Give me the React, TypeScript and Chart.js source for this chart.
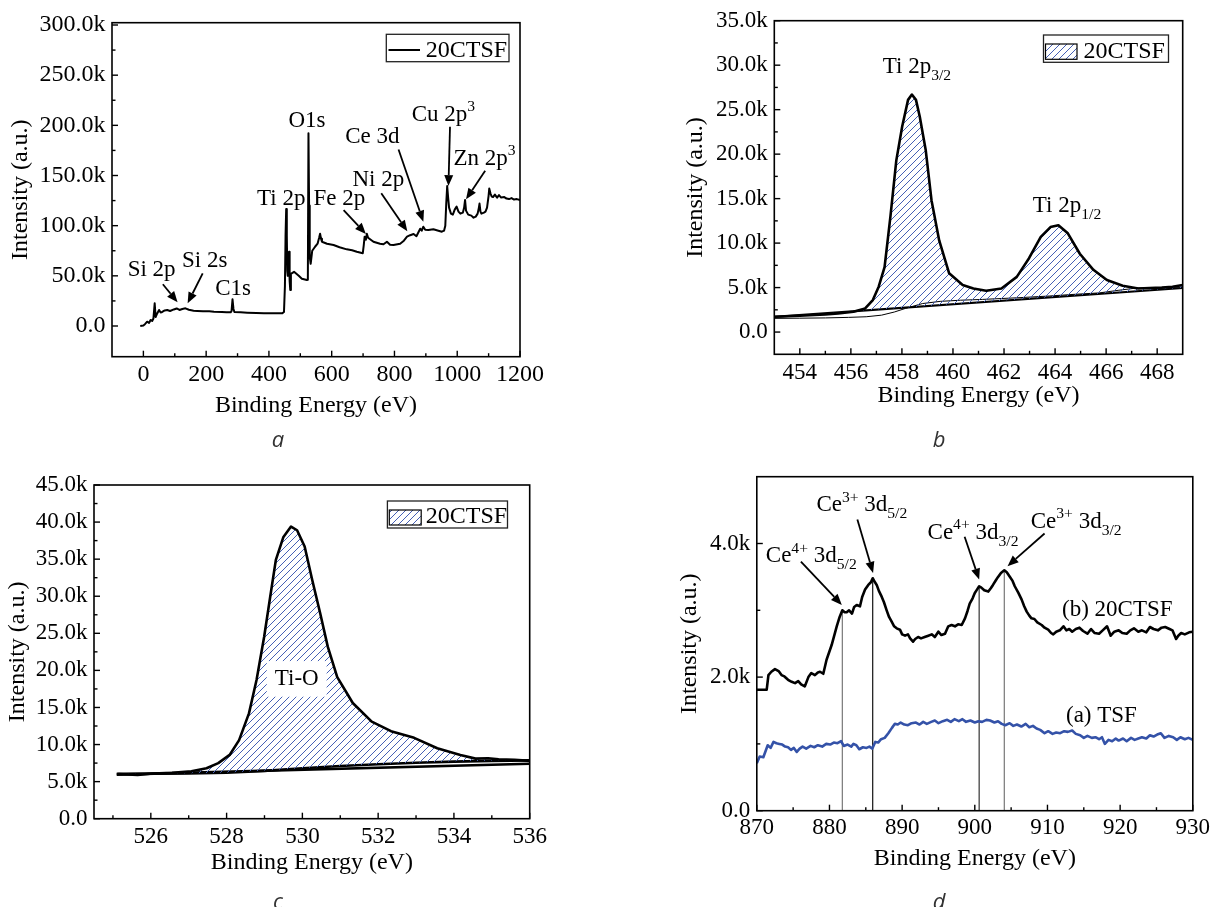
import React, { useEffect, useRef } from 'react';
import { Chart, registerables } from 'chart.js';

Chart.register(...registerables);

const SERIF = '"Liberation Serif", "Times New Roman", serif';

// ---------- Panel a : survey spectrum ----------
const surveyEnergy = [
  -10, 0, 5, 12, 18, 23, 28, 32, 36, 39, 44, 50, 55, 60, 68, 76, 85, 97, 106, 115, 124, 134, 145, 160, 172, 190,
  210, 225, 250, 265, 278, 281, 284, 287, 290, 310, 331, 360, 384, 410, 442, 448, 451, 453, 455, 457, 458.5, 460,
  462, 464, 466, 468, 470, 480, 495, 505, 521, 524, 526, 528, 530, 533, 538, 547, 555, 560, 563, 566, 569, 585,
  606, 625, 648, 665, 680, 699, 702, 705, 709, 712, 716, 733, 754, 765, 776, 786, 797, 818, 830, 840, 850, 861,
  870, 882, 887, 892, 898, 908, 924, 940, 951, 958, 962, 965, 968, 971, 974, 980, 986, 992, 998, 1004, 1010,
  1018, 1022, 1025, 1028, 1035, 1045, 1052, 1059, 1065, 1069, 1071, 1074, 1077, 1085, 1090, 1095, 1100, 1102,
  1106, 1110, 1114, 1120, 1127, 1133, 1140, 1150, 1157, 1165, 1173, 1181, 1190, 1200,
];
const surveyCounts = [
  0, 500, 1800, 4300, 3000, 6000, 5000, 7500, 22600, 9000, 12500, 16000, 13500, 14000, 15500, 16000, 15000, 16500,
  17500, 16000, 17000, 17600, 16200, 15200, 15000, 14600, 14800, 14300, 14000, 13800, 13600, 15000, 26600, 17000,
  14000, 13600, 13300, 12900, 12600, 12700, 12600, 14000, 40000, 90000, 116500, 90000, 55000, 50000, 60000, 74000,
  45000, 36000, 52000, 54000, 50000, 47000, 45800, 46000, 192000, 120000, 69000, 62000, 75000, 79000, 82000, 88000,
  92000, 87000, 84000, 82000, 80700, 78500, 76400, 75500, 74000, 72500, 80000, 89000, 86000, 92000, 88000, 84000,
  82000, 81500, 84000, 81000, 80700, 82000, 85000, 89000, 90500, 91700, 89500, 97000, 95000, 99000, 96000, 95700,
  96400, 95000, 94000, 95000, 100000, 122000, 139500, 128000, 118000, 112000, 111000, 116000, 119000, 114000,
  112000, 113000, 118000, 125600, 115000, 111000, 110000, 108000, 109000, 112000, 118000, 122000, 114000, 112000,
  113000, 114000, 118000, 130000, 137000, 132000, 129000, 128500, 131000, 128000, 130500, 128000, 128500, 127000,
  126500, 127500, 126000, 126500, 125500,
];
const surveyXTicks = [0, 200, 400, 600, 800, 1000, 1200];
const surveyXMinor = [100, 300, 500, 700, 900, 1100];
const surveyYTicks = [0, 50000, 100000, 150000, 200000, 250000, 300000];
const surveyYMinor = [25000, 75000, 125000, 175000, 225000, 275000];

// ---------- Panel b : Ti 2p ----------
const tiEnergy = [
  453.0, 453.5, 454.0, 454.57, 455.0, 455.5, 456.1, 456.56, 456.86, 457.09, 457.32, 457.55, 457.78, 458.01, 458.24,
  458.39, 458.55, 458.7, 458.93, 459.16, 459.46, 459.85, 460.38, 460.8, 461.3, 461.9, 462.5, 462.98, 463.44, 463.82,
  464.13, 464.5, 464.97, 465.5, 466.03, 466.65, 467.26, 467.7, 468.18, 468.6, 469.0,
];
const tiCounts = [
  1720, 1780, 1840, 1910, 1990, 2080, 2280, 2660, 3600, 5100, 7300, 13000, 19300, 23100, 26100, 26700, 26100, 24200,
  20500, 14800, 10300, 6600, 5300, 4900, 4640, 4900, 6200, 8300, 10700, 11800, 12000, 11100, 8800, 7000, 5850, 5200,
  4900, 4950, 5000, 5100, 5300,
];
const tiShirleyEnergy = [453.0, 454.0, 455.0, 455.9, 456.6, 457.2, 457.7, 458.14, 458.8, 459.5, 460.3, 461.15, 462.5, 463.77, 464.8, 465.73, 466.5, 467.2, 468.0, 469.0];
const tiShirleyCounts = [1540, 1560, 1590, 1650, 1720, 1900, 2250, 2660, 3200, 3450, 3580, 3670, 3850, 4050, 4250, 4400, 4700, 4950, 5000, 5050];
const tiLinearEnergy = [453.0, 469.0];
const tiLinearCounts = [1700, 4950];
const tiXTicks = [454, 456, 458, 460, 462, 464, 466, 468];
const tiXMinor = [455, 457, 459, 461, 463, 465, 467];
const tiYTicks = [0, 5000, 10000, 15000, 20000, 25000, 30000, 35000];
const tiYMinor = [2500, 7500, 12500, 17500, 22500, 27500, 32500];

// ---------- Panel c : O 1s ----------
const oEnergy = [
  525.14, 525.65, 526.05, 526.56, 527.07, 527.47, 527.78, 528.08, 528.33, 528.59, 528.79, 528.99, 529.15, 529.3,
  529.5, 529.7, 529.86, 530.06, 530.26, 530.47, 530.67, 530.92, 531.33, 531.83, 532.34, 532.95, 533.56, 534.17,
  534.57, 534.9, 535.18, 535.6, 536.0,
];
const oCounts = [
  6030, 5900, 6100, 6200, 6400, 6800, 7500, 8600, 10600, 14200, 18700, 24500, 29900, 34900, 38000, 39400, 38900,
  36700, 32200, 27700, 23200, 19100, 15600, 13100, 11800, 10900, 9500, 8600, 8100, 8150, 8000, 7950, 7800,
];
const oShirleyEnergy = [525.1, 527, 528, 529, 530, 531, 532, 533, 534, 535, 536];
const oShirleyCounts = [6050, 6100, 6200, 6450, 6800, 7100, 7350, 7550, 7700, 7800, 7870];
const oLinearEnergy = [525.1, 536.0];
const oLinearCounts = [5950, 7400];
const oXTicks = [526, 528, 530, 532, 534, 536];
const oXMinor = [525, 527, 529, 531, 533, 535];
const oYTicks = [0, 5000, 10000, 15000, 20000, 25000, 30000, 35000, 40000, 45000];
const oYMinor = [2500, 7500, 12500, 17500, 22500, 27500, 32500, 37500, 42500];

// ---------- Panel d : Ce 3d ----------
const ceEnergy = [
  870.0, 871.36, 871.6, 872.0, 872.5, 873.0, 873.4, 873.8, 874.3, 874.8, 875.26, 875.7, 876.1, 876.6, 877.1, 877.5,
  878.0, 878.4, 878.7, 879.15, 879.6, 880.3, 881.0, 881.4, 881.77, 882.1, 882.37, 882.7, 883.1, 883.4, 883.75,
  884.2, 884.5, 884.9, 885.34, 885.7, 885.95, 886.2, 886.5, 886.8, 887.2, 887.5, 887.87, 888.2, 888.56, 888.9,
  889.25, 889.7, 890.0, 890.4, 890.8, 891.1, 891.5, 891.8, 892.2, 892.6, 893.1, 893.6, 894.07, 894.5, 894.98,
  895.4, 895.9, 896.35, 896.8, 897.27, 897.7, 898.2, 898.65, 899.0, 899.3, 899.7, 900.0, 900.3, 900.6, 900.9,
  901.3, 901.86, 902.2, 902.5, 902.9, 903.2, 903.6, 904.06, 904.4, 904.84, 905.2, 905.5, 906.0, 906.45, 906.8,
  907.14, 907.5, 907.8, 908.2, 908.6, 909.2, 909.6, 910.1, 910.5, 910.8, 911.2, 911.7, 912.2, 912.6, 913.0,
  913.4, 913.9, 914.4, 914.9, 915.5, 916.0, 916.5, 917.1, 917.6, 918.2, 918.7, 919.2, 919.8, 920.3, 920.9, 921.4,
  921.9, 922.5, 923.0, 923.6, 924.1, 924.6, 925.2, 925.7, 926.2, 926.8, 927.2, 927.7, 928.0, 928.4, 928.9, 929.5,
  930.0,
];
const ceCounts = [
  1810, 1810, 2030, 2080, 2120, 2090, 2030, 2010, 1960, 1930, 1910, 1940, 1890, 1860, 2000, 2060, 2030, 2070, 2080,
  2050, 2260, 2480, 2760, 2900, 3000, 2970, 2970, 3000, 2950, 3050, 3080, 3060, 3200, 3310, 3380, 3420, 3480, 3430,
  3380, 3290, 3200, 3120, 3000, 2900, 2830, 2760, 2730, 2710, 2640, 2620, 2640, 2580, 2530, 2570, 2600, 2580, 2600,
  2620, 2640, 2600, 2680, 2630, 2650, 2760, 2780, 2760, 2790, 2780, 2880, 2990, 3100, 3180, 3260, 3310, 3360, 3340,
  3300, 3280, 3330, 3380, 3450, 3500, 3560, 3600, 3570, 3500, 3440, 3360, 3260, 3160, 3060, 2980, 2920, 2880, 2870,
  2820, 2780, 2740, 2710, 2660, 2640, 2680, 2700, 2760, 2700, 2720, 2680, 2720, 2740, 2690, 2650, 2720, 2660, 2650,
  2700, 2760, 2620, 2680, 2700, 2660, 2650, 2700, 2730, 2680, 2700, 2670, 2750, 2720, 2700, 2740, 2750, 2720, 2700,
  2570, 2620, 2660, 2640, 2670, 2680,
];
const tsfEnergy = [
  870.0, 870.4, 870.9, 871.5, 871.9, 872.3, 872.7, 873.1, 873.5, 873.9, 874.3, 874.7, 875.1, 875.5, 875.9, 876.3,
  876.8, 877.4, 877.9, 878.4, 879.0, 879.55, 880.1, 880.6, 881.1, 881.6, 881.97, 882.5, 883.0, 883.3, 883.7, 884.1,
  884.6, 885.1, 885.5, 885.9, 886.3, 886.7, 887.1, 887.6, 888.1, 888.6, 889.0, 889.4, 889.8, 890.3, 890.8, 891.3,
  891.9, 892.4, 892.9, 893.4, 894.0, 894.5, 895.0, 895.6, 896.2, 896.7, 897.2, 897.8, 898.3, 898.8, 899.4, 900.0,
  900.5, 901.0, 901.6, 902.1, 902.7, 903.2, 903.7, 904.2, 904.8, 905.3, 905.8, 906.4, 907.0, 907.5, 908.0, 908.5,
  909.0, 909.6, 910.1, 910.7, 911.2, 911.75, 912.3, 912.8, 913.4, 913.9, 914.5, 915.0, 915.5, 916.1, 916.6, 917.1,
  917.5, 917.9, 918.4, 918.9, 919.4, 919.8, 920.4, 920.9, 921.5, 922.0, 922.5, 923.0, 923.6, 924.1, 924.6, 925.1,
  925.6, 926.1, 926.7, 927.3, 927.8, 928.3, 928.9, 929.4, 930.0,
];
const tsfCounts = [
  710, 810, 800, 980, 940, 1030, 1010, 1000, 990, 960, 950, 910, 940, 880, 930, 960, 930, 970, 950, 980, 960, 1000,
  990, 1020, 1010, 1040, 970, 990, 960, 1000, 980, 920, 950, 940, 960, 930, 1030, 1020, 1070, 1090, 1160, 1240,
  1300, 1290, 1320, 1290, 1280, 1310, 1320, 1290, 1330, 1300, 1330, 1350, 1310, 1340, 1360, 1330, 1370, 1340, 1370,
  1330, 1350, 1320, 1340, 1330, 1360, 1350, 1320, 1340, 1300, 1280, 1310, 1270, 1290, 1260, 1300, 1250, 1270, 1230,
  1210, 1160, 1190, 1150, 1170, 1160, 1190, 1180, 1200, 1150, 1130, 1090, 1120, 1090, 1100, 1070, 1100, 1000, 1060,
  1040, 1080, 1050, 1080, 1040, 1090, 1060, 1080, 1100, 1080, 1130, 1110, 1140, 1160, 1090, 1120, 1100, 1060, 1100,
  1070, 1090, 1060,
];
const cePeakEnergy = [881.77, 885.95, 900.6, 904.06];
const cePeakTop = [3000, 3480, 3360, 3600];
const cePeakColors = ['#777', '#111', '#333', '#777'];
const ceXTicks = [870, 880, 890, 900, 910, 920, 930];
const ceXMinor = [875, 885, 895, 905, 915, 925];
const ceYTicks = [0, 2000, 4000];
const ceYMinor = [1000, 3000];

// ---------- annotations (data coordinates) ----------
const surveyLabels = [
  { x: -50, y: 50200, segs: [['Si 2p']] },
  { x: 123, y: 59100, segs: [['Si 2s']] },
  { x: 229, y: 30900, segs: [['C1s']] },
  { x: 362, y: 120600, segs: [['Ti 2p']] },
  { x: 462, y: 198600, segs: [['O1s']] },
  { x: 542, y: 120600, segs: [['Fe 2p']] },
  { x: 666, y: 139500, segs: [['Ni 2p']] },
  { x: 643, y: 182000, segs: [['Ce 3d']] },
  { x: 855, y: 204600, segs: [['Cu 2p'], ['3', 'sup']] },
  { x: 988, y: 160500, segs: [['Zn 2p'], ['3', 'sup']] },
];
const surveyArrows = [
  [62, 41600, 109, 23600],
  [189, 52500, 141, 22600],
  [638, 115600, 709, 91700],
  [758, 132300, 841, 94400],
  [813, 176000, 892, 104000],
  [977, 198600, 972, 139500],
  [1089, 154800, 1028, 126300],
];
const tiLabels = [
  { x: 457.25, y: 29100, segs: [['Ti 2p'], ['3/2', 'sub']] },
  { x: 463.13, y: 13500, segs: [['Ti 2p'], ['1/2', 'sub']] },
];
const oLabels = [{ x: 529.85, y: 18000, segs: [['Ti-O']], align: 'center', bg: true }];
const ceLabels = [
  { x: 871.24, y: 3720, segs: [['Ce'], ['4+', 'sup'], [' 3d'], ['5/2', 'sub']] },
  { x: 878.2, y: 4480, segs: [['Ce'], ['3+', 'sup'], [' 3d'], ['5/2', 'sub']] },
  { x: 893.5, y: 4070, segs: [['Ce'], ['4+', 'sup'], [' 3d'], ['3/2', 'sub']] },
  { x: 907.7, y: 4230, segs: [['Ce'], ['3+', 'sup'], [' 3d'], ['3/2', 'sub']] },
  { x: 912.0, y: 2920, segs: [['(b) 20CTSF']] },
  { x: 912.55, y: 1330, segs: [['(a) TSF']] },
];
const ceArrows = [
  [876.07, 3730, 881.7, 3080],
  [883.84, 4360, 886.0, 3560],
  [898.6, 4100, 900.6, 3460],
  [909.6, 4150, 904.5, 3660],
];

const pts = (xs: number[], ys: number[]) => xs.map((x, i) => ({ x, y: ys[i] }));
const kFmt = (v: number) => (v === 0 ? '0.0' : (v / 1000).toFixed(1) + 'k');
const nFmt = (v: number) => String(v);

function makeHatch(color: string, s: number) {
  const c = document.createElement('canvas');
  c.width = s;
  c.height = s;
  const g = c.getContext('2d')!;
  g.strokeStyle = color;
  g.lineWidth = 1;
  g.beginPath();
  g.moveTo(0, s);
  g.lineTo(s, 0);
  g.moveTo(-1, 1);
  g.lineTo(1, -1);
  g.moveTo(s - 1, s + 1);
  g.lineTo(s + 1, s - 1);
  g.stroke();
  return g.createPattern(c, 'repeat')!;
}

function drawRich(ctx: CanvasRenderingContext2D, x: number, y: number, segs: any[], size: number, align = 'left', bg = false) {
  const small = size * 0.68;
  const parts = segs.map(([t, m]: any) => {
    const fs = m ? small : size;
    ctx.font = `${fs}px ${SERIF}`;
    return { t, m, fs, w: ctx.measureText(t).width };
  });
  const total = parts.reduce((s: number, q: any) => s + q.w, 0);
  let cx = align === 'center' ? x - total / 2 : x;
  if (bg) {
    ctx.fillStyle = '#fff';
    ctx.fillRect(cx - 8, y - size * 1.05, total + 16, size * 1.55);
  }
  ctx.textAlign = 'left';
  ctx.textBaseline = 'alphabetic';
  ctx.fillStyle = '#000';
  for (const q of parts) {
    ctx.font = `${q.fs}px ${SERIF}`;
    const dy = q.m === 'sup' ? -size * 0.42 : q.m === 'sub' ? size * 0.3 : 0;
    ctx.fillText(q.t, cx, y + dy);
    cx += q.w;
  }
}

function drawArrow(ctx: CanvasRenderingContext2D, x1: number, y1: number, x2: number, y2: number) {
  const a = Math.atan2(y2 - y1, x2 - x1);
  const hl = 11, hw = 4.5;
  const bx = x2 - hl * Math.cos(a), by = y2 - hl * Math.sin(a);
  ctx.beginPath();
  ctx.moveTo(x1, y1);
  ctx.lineTo(bx, by);
  ctx.stroke();
  ctx.beginPath();
  ctx.moveTo(x2, y2);
  ctx.lineTo(bx + hw * Math.sin(a), by - hw * Math.cos(a));
  ctx.lineTo(bx - hw * Math.sin(a), by + hw * Math.cos(a));
  ctx.closePath();
  ctx.fill();
}

const HATCH_COLOR = '#4560b5';

const specs: any[] = [
  {
    id: 'a', left: 0, top: 0, w: 600, h: 425,
    area: { l: 112, t: 22.7, r: 520, b: 356.7 },
    xMin: -100, xMax: 1200, yMin: -30600, yMax: 302300,
    xMajor: surveyXTicks, xMinor: surveyXMinor, yMajor: surveyYTicks, yMinor: surveyYMinor,
    tickSize: 24, titleSize: 24, xLabelCenter: 374.3, yLabelGap: 6.5, yTitleX: 21, xTitleY: 405.5,
    labels: surveyLabels, arrows: surveyArrows, labelSize: 23,
    legend: { box: [386.3, 34.3, 122.7, 27.4], kind: 'line', sample: [388.5, 420], sampleY: 50, textX: 425.8, textY: 56.7 },
    datasets: () => [
      { data: pts(surveyEnergy, surveyCounts), borderColor: '#000', borderWidth: 2, pointRadius: 0, fill: false },
    ],
  },
  {
    id: 'b', left: 600, top: 0, w: 610, h: 425,
    area: { l: 174.3, t: 20.7, r: 582.7, b: 354.3 },
    xMin: 453, xMax: 469, yMin: -2500, yMax: 35000,
    xMajor: tiXTicks, xMinor: tiXMinor, yMajor: tiYTicks, yMinor: tiYMinor,
    tickSize: 23, titleSize: 24, xLabelCenter: 373, yLabelGap: 6.6, yTitleX: 95.6, xTitleY: 396,
    labels: tiLabels, arrows: [], labelSize: 23,
    legend: { box: [443.5, 35, 125, 27.3], kind: 'hatch', swatch: [445.5, 44, 31.5, 15.3], textX: 483.6, textY: 58.3 },
    datasets: (hatch: any) => [
      { data: pts(tiEnergy, tiCounts), borderColor: '#000', borderWidth: 2.6, pointRadius: 0,
        fill: { target: 1, above: hatch, below: 'rgba(0,0,0,0)' } },
      { data: pts(tiLinearEnergy, tiLinearCounts), borderColor: '#000', borderWidth: 2.2, pointRadius: 0, fill: false },
      { data: pts(tiShirleyEnergy, tiShirleyCounts), borderColor: '#000', borderWidth: 1, pointRadius: 0, fill: false },
    ],
  },
  {
    id: 'c', left: 0, top: 440, w: 600, h: 467,
    area: { l: 94, t: 45, r: 529.7, b: 378.7 },
    xMin: 524.5, xMax: 536, yMin: 0, yMax: 45000,
    xMajor: oXTicks, xMinor: oXMinor, yMajor: oYTicks, yMinor: oYMinor,
    tickSize: 23, titleSize: 24, xLabelCenter: 397, yLabelGap: 6.5, yTitleX: 17.3, xTitleY: 423,
    labels: oLabels, arrows: [], labelSize: 23,
    legend: { box: [387.4, 61, 120.1, 27], kind: 'hatch', swatch: [389.3, 70, 31.9, 15], textX: 425.8, textY: 83.3 },
    datasets: (hatch: any) => [
      { data: pts(oEnergy, oCounts), borderColor: '#000', borderWidth: 2.6, pointRadius: 0,
        fill: { target: 1, above: hatch, below: 'rgba(0,0,0,0)' } },
      { data: pts(oShirleyEnergy, oShirleyCounts), borderColor: '#000', borderWidth: 2.6, pointRadius: 0, fill: false },
      { data: pts(oLinearEnergy, oLinearCounts), borderColor: '#000', borderWidth: 2.6, pointRadius: 0, fill: false },
    ],
  },
  {
    id: 'd', left: 600, top: 440, w: 610, h: 467,
    area: { l: 156.8, t: 36.7, r: 592.8, b: 370.7 },
    xMin: 870, xMax: 930, yMin: 0, yMax: 5000,
    xMajor: ceXTicks, xMinor: ceXMinor, yMajor: ceYTicks, yMinor: ceYMinor,
    tickSize: 23, titleSize: 24, xLabelCenter: 387.5, yLabelGap: 6.6, yTitleX: 89.7, xTitleY: 418.6,
    labels: ceLabels, arrows: ceArrows, labelSize: 23,
    legend: null,
    datasets: () => [
      { data: pts(ceEnergy, ceCounts), borderColor: '#000', borderWidth: 2.6, pointRadius: 0, fill: false },
      { data: pts(tsfEnergy, tsfCounts), borderColor: '#3452a8', borderWidth: 2.6, pointRadius: 0, fill: false },
      ...cePeakEnergy.map((e, i) => ({
        data: [{ x: e, y: 0 }, { x: e, y: cePeakTop[i] }],
        borderColor: cePeakColors[i], borderWidth: 1.2, pointRadius: 0, fill: false,
      })),
    ],
  },
];

function buildConfig(p: any) {
  const hatch = makeHatch(HATCH_COLOR, 7);
  const A = p.area;
  const lhTick = p.tickSize * 1.2;
  const lhTitle = p.titleSize * 1.2;
  const yFmt = kFmt;
  const overlay = {
    id: 'overlay_' + p.id,
    afterDatasetsDraw(chart: any) {
      const { ctx, chartArea: a, scales } = chart;
      const xs = scales.x, ys = scales.y;
      ctx.save();
      ctx.strokeStyle = '#000';
      ctx.lineWidth = 1.6;
      ctx.strokeRect(a.left, a.top, a.right - a.left, a.bottom - a.top);
      ctx.lineWidth = 1.4;
      const xt = (vals: number[], len: number) => {
        for (const v of vals) {
          const px = xs.getPixelForValue(v);
          ctx.beginPath();
          ctx.moveTo(px, a.bottom);
          ctx.lineTo(px, a.bottom - len);
          ctx.stroke();
        }
      };
      const yt = (vals: number[], len: number) => {
        for (const v of vals) {
          const py = ys.getPixelForValue(v);
          ctx.beginPath();
          ctx.moveTo(a.left, py);
          ctx.lineTo(a.left + len, py);
          ctx.stroke();
        }
      };
      xt(p.xMajor, 6);
      xt(p.xMinor, 3.5);
      yt(p.yMajor, 6);
      yt(p.yMinor, 3.5);

      // arrows
      ctx.lineWidth = 1.8;
      ctx.fillStyle = '#000';
      for (const [x1, y1, x2, y2] of p.arrows) {
        drawArrow(ctx, xs.getPixelForValue(x1), ys.getPixelForValue(y1), xs.getPixelForValue(x2), ys.getPixelForValue(y2));
      }
      // labels
      for (const l of p.labels) {
        drawRich(ctx, xs.getPixelForValue(l.x), ys.getPixelForValue(l.y), l.segs, p.labelSize, l.align || 'left', !!l.bg);
      }
      // legend
      const lg = p.legend;
      if (lg) {
        const [bx, by, bw, bh] = lg.box;
        ctx.fillStyle = '#fff';
        ctx.fillRect(bx, by, bw, bh);
        ctx.strokeStyle = '#222';
        ctx.lineWidth = 1.3;
        ctx.strokeRect(bx, by, bw, bh);
        if (lg.kind === 'line') {
          ctx.strokeStyle = '#000';
          ctx.lineWidth = 2;
          ctx.beginPath();
          ctx.moveTo(lg.sample[0], lg.sampleY);
          ctx.lineTo(lg.sample[1], lg.sampleY);
          ctx.stroke();
        } else {
          const [sx, sy, sw, sh] = lg.swatch;
          ctx.fillStyle = hatch;
          ctx.fillRect(sx, sy, sw, sh);
          ctx.strokeStyle = '#000';
          ctx.lineWidth = 1.2;
          ctx.strokeRect(sx, sy, sw, sh);
        }
        ctx.fillStyle = '#000';
        ctx.font = `${p.titleSize}px ${SERIF}`;
        ctx.textAlign = 'left';
        ctx.textBaseline = 'alphabetic';
        ctx.fillText('20CTSF', lg.textX, lg.textY);
      }
      ctx.restore();
    },
  };

  return {
    type: 'line',
    data: { datasets: p.datasets(hatch) },
    options: {
      responsive: false,
      animation: false,
      events: [],
      layout: { padding: { left: 0, top: A.t, right: p.w - A.r, bottom: 0 } },
      plugins: { legend: { display: false }, tooltip: { enabled: false } },
      elements: { point: { radius: 0 }, line: { tension: 0, borderJoinStyle: 'round' } },
      scales: {
        x: {
          type: 'linear',
          min: p.xMin,
          max: p.xMax,
          grid: { display: false, drawTicks: false },
          border: { display: false },
          afterBuildTicks: (s: any) => { s.ticks = p.xMajor.map((v: number) => ({ value: v })); },
          afterFit: (s: any) => {
            s.height = p.h - A.b;
            s.paddingLeft = 0; s.paddingRight = 0; s.paddingTop = 0; s.paddingBottom = 0;
          },
          ticks: {
            autoSkip: false, maxRotation: 0, minRotation: 0, color: '#000',
            font: { family: SERIF, size: p.tickSize },
            padding: p.xLabelCenter - A.b - lhTick / 2,
            callback: (v: any) => nFmt(v),
          },
          title: {
            display: true, text: 'Binding Energy (eV)', color: '#000',
            font: { family: SERIF, size: p.titleSize },
            padding: { top: 0, bottom: p.h - lhTitle / 2 - p.xTitleY },
          },
        },
        y: {
          type: 'linear',
          min: p.yMin,
          max: p.yMax,
          grid: { display: false, drawTicks: false },
          border: { display: false },
          afterBuildTicks: (s: any) => { s.ticks = p.yMajor.map((v: number) => ({ value: v })); },
          afterFit: (s: any) => {
            s.width = A.l;
            s.paddingLeft = 0; s.paddingRight = 0; s.paddingTop = 0; s.paddingBottom = 0;
          },
          ticks: {
            autoSkip: false, color: '#000',
            font: { family: SERIF, size: p.tickSize },
            padding: p.yLabelGap,
            callback: (v: any) => yFmt(v),
          },
          title: {
            display: true, text: 'Intensity (a.u.)', color: '#000',
            font: { family: SERIF, size: p.titleSize },
            padding: { top: p.yTitleX - lhTitle / 2, bottom: 0 },
          },
        },
      },
    },
    plugins: [overlay],
  };
}

function Panel({ spec }: { spec: any }) {
  const ref = useRef<HTMLCanvasElement | null>(null);
  useEffect(() => {
    const chart = new Chart(ref.current as HTMLCanvasElement, buildConfig(spec) as any);
    return () => chart.destroy();
  }, [spec]);
  return (
    <canvas
      ref={ref}
      width={spec.w}
      height={spec.h}
      style={{ position: 'absolute', left: spec.left, top: spec.top, width: spec.w, height: spec.h }}
    />
  );
}

const panelTags = [
  { t: 'a', x: 278, y: 446 },
  { t: 'b', x: 939, y: 446 },
  { t: 'c', x: 278, y: 908 },
  { t: 'd', x: 939, y: 908 },
];

export default function App() {
  return (
    <div style={{ position: 'absolute', left: 0, top: 0, width: 1210, height: 907, background: '#fff', overflow: 'hidden' }}>
      {specs.map((s) => (
        <Panel key={s.id} spec={s} />
      ))}
      {panelTags.map((g) => (
        <div
          key={g.t}
          style={{
            position: 'absolute', left: g.x, top: g.y - 23.5, transform: 'translateX(-50%)',
            fontFamily: '"Open Sans", sans-serif', fontStyle: 'italic', fontSize: 22, lineHeight: '30px',
            color: '#333', whiteSpace: 'nowrap',
          }}
        >
          {g.t}
        </div>
      ))}
    </div>
  );
}
